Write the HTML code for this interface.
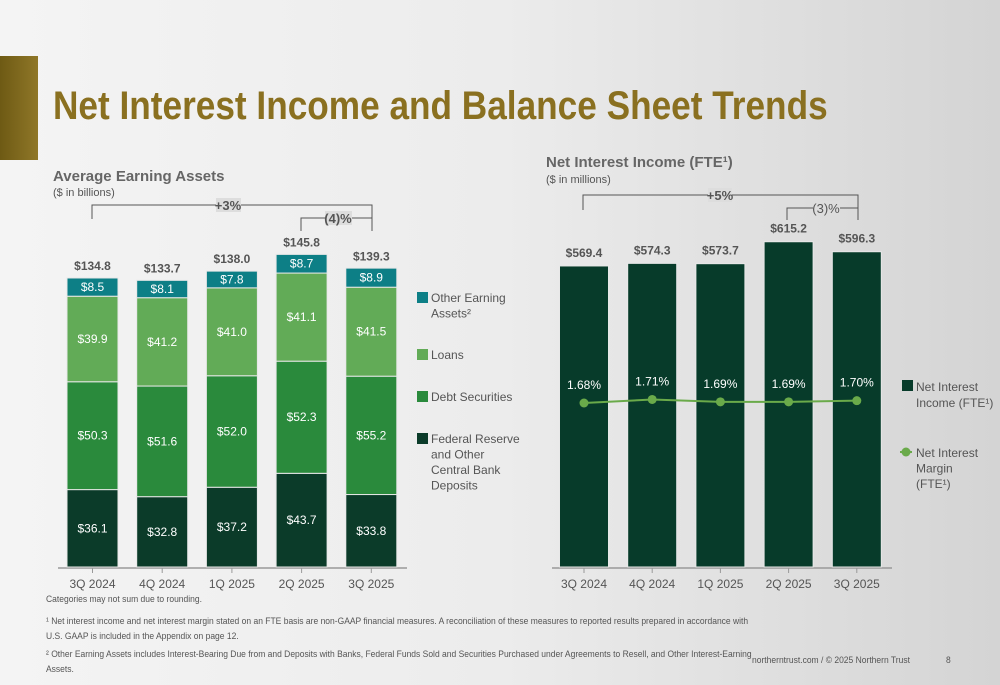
<!DOCTYPE html>
<html><head><meta charset="utf-8"><style>
body{margin:0}
#root{position:relative;width:1000px;height:685px;overflow:hidden;background:linear-gradient(90deg,#f4f4f4 0%,#ececec 50%,#d4d4d4 100%);font-family:"Liberation Sans",sans-serif}
.t{position:absolute;white-space:nowrap}
.fn{position:absolute;font-size:9.5px;color:#555;transform-origin:0 0;transform:scaleX(0.895);white-space:nowrap}
</style></head><body>
<div id="root">
<div style="position:absolute;left:0;top:56px;width:38px;height:104px;background:linear-gradient(90deg,#6e5a14,#8f7728)"></div>
<div class="t" style="left:53px;top:84px;font-size:40px;font-weight:bold;color:#8a7020;transform:scaleX(0.88);transform-origin:0 0">Net Interest Income and Balance Sheet Trends</div>
<svg id="chart" width="1000" height="685" style="position:absolute;left:0;top:0"></svg>
<div class="fn" style="left:46px;top:594px">Categories may not sum due to rounding.</div>
<div class="fn" style="left:46px;top:614px;line-height:15px">¹ Net interest income and net interest margin stated on an FTE basis are non-GAAP financial measures. A reconciliation of these measures to reported results prepared in accordance with<br>U.S. GAAP is included in the Appendix on page 12.</div>
<div class="fn" style="left:46px;top:647px;line-height:15px">² Other Earning Assets includes Interest-Bearing Due from and Deposits with Banks, Federal Funds Sold and Securities Purchased under Agreements to Resell, and Other Interest-Earning<br>Assets.</div>
<div class="fn" style="left:752px;top:655px">northerntrust.com / © 2025 Northern Trust</div>
<div class="fn" style="left:946px;top:655px">8</div>
</div>
<script>
const categories=["3Q 2024","4Q 2024","1Q 2025","2Q 2025","3Q 2025"];
const fedReserve=[36.1,32.8,37.2,43.7,33.8];
const debtSec=[50.3,51.6,52.0,52.3,55.2];
const loans=[39.9,41.2,41.0,41.1,41.5];
const otherAssets=[8.5,8.1,7.8,8.7,8.9];
const totals=[134.8,133.7,138.0,145.8,139.3];
const nii=[569.4,574.3,573.7,615.2,596.3];
const nim=[1.68,1.71,1.69,1.69,1.70];
const NS="http://www.w3.org/2000/svg";
const svg=document.getElementById('chart');
function mk(tag,attrs,name,parent){const e=document.createElementNS(NS,tag);for(const k in attrs)e.setAttribute(k,attrs[k]);


(parent||svg).appendChild(e);return e;}
function txt(x,y,s,opt,name){const e=mk('text',Object.assign({x:x,y:y,'text-anchor':'middle','font-family':'Liberation Sans, sans-serif','font-size':12,fill:'#555'},opt||{}),name);e.textContent=s;return e;}
const base=567;
const lx=i=>92.5+i*69.7, lw=51, ly=v=>v*2.144;
mk('line',{x1:58,y1:568,x2:407,y2:568,stroke:'#999','stroke-width':1.5},'x-axis-left');
const segs=[[fedReserve,'#0b3b29','fed'],[debtSec,'#2a8a3c','debt'],[loans,'#62ab57','loans'],[otherAssets,'#0d7f86','other']];
categories.forEach((c,i)=>{let y=base;
 segs.forEach(([arr,col,n])=>{const h=ly(arr[i]);y-=h;
  mk('rect',{x:lx(i)-lw/2,y:y,width:lw,height:h,fill:col,stroke:'#e8e8e8','stroke-width':1},'bar-'+n+'-'+i);
  txt(lx(i),y+h/2+4,'$'+arr[i].toFixed(1),{fill:'#fff','font-size':12},'label-'+n+'-'+i);});
 txt(lx(i),base-ly(totals[i])-8,'$'+totals[i].toFixed(1),{'font-weight':'bold','font-size':12},'total-label-'+i);
 txt(lx(i),588,c,{'font-size':12,fill:'#555'},'x-tick-left-'+i);
 mk('line',{x1:lx(i),y1:568,x2:lx(i),y2:573,stroke:'#999'},'tick-left-'+i);
});
txt(53,181,'Average Earning Assets',{'text-anchor':'start','font-weight':'bold','font-size':15,fill:'#666'},'left-chart-title');
txt(53,196,'($ in billions)',{'text-anchor':'start','font-size':11,fill:'#555'},'left-chart-subtitle');
mk('path',{d:'M92,219 V205 H372 V231 M301,231 V218 H372',fill:'none',stroke:'#555','stroke-width':1},'growth-brackets-left');
mk('rect',{x:216,y:198,width:25,height:14,fill:'#ddd'},'growth-bg-left');
txt(228,210,'+3%',{'font-weight':'bold','font-size':13},'growth-3pct');
mk('rect',{x:325,y:211,width:27,height:14,fill:'#ddd'},'growth-bg-left2');
txt(338,223,'(4)%',{'font-weight':'bold','font-size':13},'growth-neg4pct');
const leg=[['#0d7f86',292,['Other Earning','Assets²']],['#62ab57',349,['Loans']],['#2a8a3c',391,['Debt Securities']],['#0b3b29',433,['Federal Reserve','and Other','Central Bank','Deposits']]];
leg.forEach(([c,y,ls],k)=>{mk('rect',{x:417,y:y,width:11,height:11,fill:c},'legend-swatch-left-'+k);
 ls.forEach((l,j)=>txt(431,y+10+j*15.5,l,{'text-anchor':'start','font-size':12},'legend-label-left-'+k+'-'+j));});
const rx=i=>584+i*68.2, rw=49, ry=v=>v*0.5287;
mk('line',{x1:552,y1:568,x2:892,y2:568,stroke:'#999','stroke-width':1.5},'x-axis-right');
const ny=v=>403-(v-1.68)*117;
categories.forEach((c,i)=>{const h=ry(nii[i]);
 mk('rect',{x:rx(i)-rw/2,y:base-h,width:rw,height:h,fill:'#073b2a',stroke:'#e8e8e8','stroke-width':1},'bar-nii-'+i);
 txt(rx(i),base-h-9,'$'+nii[i].toFixed(1),{'font-weight':'bold','font-size':12},'nii-label-'+i);
 txt(rx(i),ny(nim[i])-14,nim[i].toFixed(2)+'%',{fill:'#fff','font-size':12},'nim-label-'+i);
 txt(rx(i),588,c,{'font-size':12,fill:'#555'},'x-tick-right-'+i);
 mk('line',{x1:rx(i),y1:568,x2:rx(i),y2:573,stroke:'#999'},'tick-right-'+i);
});
mk('polyline',{points:nim.map((v,i)=>rx(i)+','+ny(v)).join(' '),fill:'none',stroke:'#6aaa4a','stroke-width':2},'nim-line');
nim.forEach((v,i)=>mk('circle',{cx:rx(i),cy:ny(v),r:4.5,fill:'#6aaa4a'},'nim-point-'+i));
txt(546,167,'Net Interest Income (FTE¹)',{'text-anchor':'start','font-weight':'bold','font-size':15,fill:'#666'},'right-chart-title');
txt(546,183,'($ in millions)',{'text-anchor':'start','font-size':11,fill:'#555'},'right-chart-subtitle');
mk('path',{d:'M583,210 V195 H858 V220 M787,220 V208 H858',fill:'none',stroke:'#555','stroke-width':1},'growth-brackets-right');
mk('rect',{x:708,y:188,width:24,height:14,fill:'#ddd'},'growth-bg-right');
txt(720,200,'+5%',{'font-weight':'bold','font-size':13},'growth-5pct');
mk('rect',{x:813,y:201,width:27,height:14,fill:'#ddd'},'growth-bg-right2');
txt(826,213,'(3)%',{'font-size':13},'growth-neg3pct');
mk('rect',{x:902,y:380,width:11,height:11,fill:'#073b2a'},'legend-swatch-nii');
txt(916,391,'Net Interest',{'text-anchor':'start','font-size':12},'legend-nii-1');
txt(916,407,'Income (FTE¹)',{'text-anchor':'start','font-size':12},'legend-nii-2');
mk('line',{x1:900,y1:452,x2:912,y2:452,stroke:'#6aaa4a','stroke-width':2},'legend-nim-line');
mk('circle',{cx:906,cy:452,r:4.5,fill:'#6aaa4a'},'legend-nim-dot');
['Net Interest','Margin','(FTE¹)'].forEach((l,j)=>txt(916,457+j*15.5,l,{'text-anchor':'start','font-size':12},'legend-nim-'+j));
</script>
</body></html>
